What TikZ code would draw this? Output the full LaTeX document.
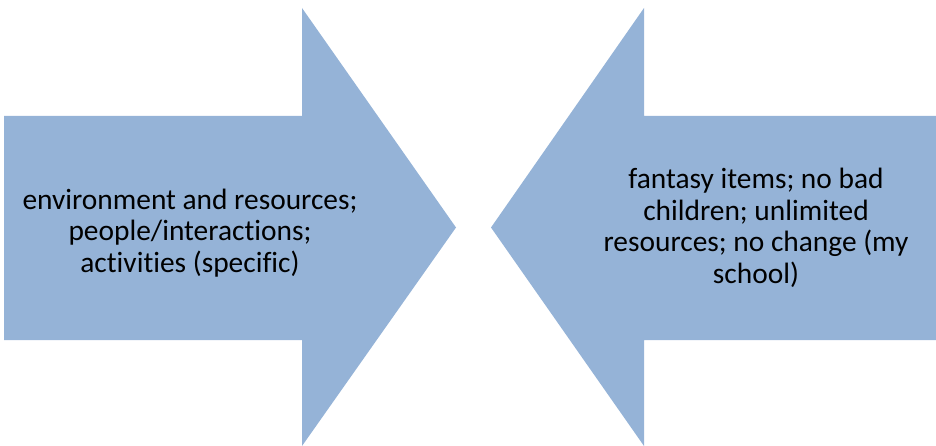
\documentclass[tikz,border=0pt]{standalone}
\usepackage{fontspec}
\setmainfont{Carlito}[Ligatures={NoCommon}]
\definecolor{arrowblue}{HTML}{95B3D7}
\begin{document}
\begin{tikzpicture}[x=1pt,y=-1pt,
  arrowshape/.style={fill=arrowblue,draw=none},
  label/.style={align=center,font=\fontsize{29.4}{31.6}\selectfont,text=black,inner sep=0pt}]
\useasboundingbox (0,0) rectangle (936,446);
\fill[arrowshape] (4,116) -- (302,116) -- (302,8) -- (456,227.5) -- (302,446) -- (302,340) -- (4,340) -- cycle;
\fill[arrowshape] (936,116) -- (644,116) -- (644,8) -- (491,227.5) -- (644,446) -- (644,340) -- (936,340) -- cycle;
\node[label] (lefttext) at (190,233) {environment and resources;\\people/interactions;\\activities (specific)};
\node[label] (righttext) at (756,228) {fantasy items; no bad\\children; unlimited\\resources; no change (my\\school)};
\end{tikzpicture}
\end{document}
